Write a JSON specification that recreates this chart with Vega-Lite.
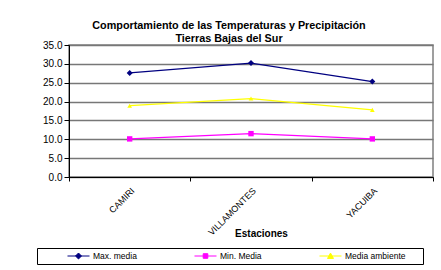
{
  "$schema": "https://vega.github.io/schema/vega-lite/v6.json",
  "width": 364,
  "height": 132,
  "autosize": "none",
  "padding": {"left": 69, "top": 45, "right": 8, "bottom": 93},
  "background": "white",
  "config": {
    "font": "Liberation Sans",
    "view": {"stroke": "#808080", "strokeWidth": 1.5}
  },
  "title": {
    "text": ["Comportamiento de las Temperaturas y Precipitación", "Tierras Bajas del Sur"],
    "fontSize": 10.8,
    "fontWeight": "bold",
    "color": "black",
    "anchor": "middle",
    "dx": -22,
    "offset": -4,
    "lineHeight": 13
  },
  "data": {
    "values": [
      {"estacion": "CAMIRI", "serie": "Max. media", "valor": 27.6},
      {"estacion": "VILLAMONTES", "serie": "Max. media", "valor": 30.2},
      {"estacion": "YACUIBA", "serie": "Max. media", "valor": 25.3},
      {"estacion": "CAMIRI", "serie": "Min. Media", "valor": 10.1},
      {"estacion": "VILLAMONTES", "serie": "Min. Media", "valor": 11.5},
      {"estacion": "YACUIBA", "serie": "Min. Media", "valor": 10.1},
      {"estacion": "CAMIRI", "serie": "Media ambiente", "valor": 18.9},
      {"estacion": "VILLAMONTES", "serie": "Media ambiente", "valor": 20.8},
      {"estacion": "YACUIBA", "serie": "Media ambiente", "valor": 17.8}
    ]
  },
  "encoding": {
    "x": {
      "field": "estacion",
      "type": "nominal",
      "sort": ["CAMIRI", "VILLAMONTES", "YACUIBA"],
      "bandPosition": 0.5,
      "scale": {"type": "band", "paddingInner": 0, "paddingOuter": 0},
      "axis": {
        "title": "Estaciones",
        "titleFontSize": 10,
        "titleFontWeight": "bold",
        "titleColor": "black",
        "titleX": 192,
        "titleY": 59,
        "titleBaseline": "alphabetic",
        "labelAngle": -45,
        "labelFontSize": 9,
        "labelColor": "black",
        "labelPadding": 5,
        "tickBand": "extent",
        "tickSize": 4,
        "tickColor": "black",
        "domainColor": "black",
        "grid": false
      }
    },
    "y": {
      "field": "valor",
      "type": "quantitative",
      "scale": {"domain": [0, 35], "nice": false},
      "axis": {
        "title": null,
        "values": [0, 5, 10, 15, 20, 25, 30, 35],
        "format": ".1f",
        "grid": true,
        "gridColor": "#777777",
        "gridWidth": 1.3,
        "domainColor": "black",
        "tickColor": "black",
        "tickSize": 5,
        "labelFontSize": 10,
        "labelColor": "black",
        "labelPadding": 2
      }
    }
  },
  "layer": [
    {
      "mark": {"type": "line", "strokeWidth": 1.2},
      "encoding": {
        "color": {
          "field": "serie",
          "type": "nominal",
          "scale": {"domain": ["Max. media", "Min. Media", "Media ambiente"], "range": ["#000080", "#FF00FF", "#FFFF00"]},
          "legend": null
        }
      }
    },
    {
      "mark": {"type": "point", "filled": true, "opacity": 1},
      "encoding": {
        "color": {
          "field": "serie",
          "type": "nominal",
          "scale": {"domain": ["Max. media", "Min. Media", "Media ambiente"], "range": ["#000080", "#FF00FF", "#FFFF00"]},
          "legend": null
        },
        "shape": {
          "field": "serie",
          "type": "nominal",
          "scale": {"domain": ["Max. media", "Min. Media", "Media ambiente"], "range": ["diamond", "square", "triangle-up"]},
          "legend": null
        },
        "size": {
          "field": "serie",
          "type": "nominal",
          "scale": {"domain": ["Max. media", "Min. Media", "Media ambiente"], "range": [36, 22, 40]},
          "legend": null
        }
      }
    },
    {
      "mark": {"type": "point", "filled": true, "opacity": 0},
      "encoding": {
        "fill": {
          "field": "serie",
          "type": "nominal",
          "scale": {"domain": ["Max. media", "Min. Media", "Media ambiente"], "range": ["#000080", "#FF00FF", "#FFFF00"]},
          "legend": {"title": null, "orient": "none", "legendX": -32, "legendY": 203, "direction": "horizontal", "columns": 3, "columnPadding": 30, "padding": 3, "strokeColor": "black", "symbolSize": 2401, "clipHeight": 10, "labelOffset": 3, "labelFontSize": 8.5, "labelColor": "black", "symbolStrokeWidth": 1, "symbolOpacity": 1, "labelExpr": "datum.label == 'Media ambiente' ? datum.label + '\u2800\u2800' : datum.label"}
        },
        "stroke": {
          "field": "serie",
          "type": "nominal",
          "scale": {"domain": ["Max. media", "Min. Media", "Media ambiente"], "range": ["#000080", "#FF00FF", "#FFFF00"]},
          "legend": {"title": null, "orient": "none", "legendX": -32, "legendY": 203, "direction": "horizontal", "columns": 3, "columnPadding": 30, "padding": 3, "strokeColor": "black", "symbolSize": 2401, "clipHeight": 10, "labelOffset": 3, "labelFontSize": 8.5, "labelColor": "black", "symbolStrokeWidth": 1, "symbolOpacity": 1, "labelExpr": "datum.label == 'Media ambiente' ? datum.label + '\u2800\u2800' : datum.label"}
        },
        "shape": {
          "field": "serie",
          "type": "nominal",
          "scale": {
            "domain": ["Max. media", "Min. Media", "Media ambiente"],
            "range": [
              "M-1,0M0.102,0L1,0M0.551,-0.122L0.673,0L0.551,0.122L0.429,0Z",
              "M-1,0M0.102,0L1,0M0.457,-0.094L0.645,-0.094L0.645,0.094L0.457,0.094Z",
              "M-1,0M0.102,0L1,0M0.551,-0.12L0.673,0.1L0.429,0.1Z"
            ]
          },
          "legend": {"title": null, "orient": "none", "legendX": -32, "legendY": 203, "direction": "horizontal", "columns": 3, "columnPadding": 30, "padding": 3, "strokeColor": "black", "symbolSize": 2401, "clipHeight": 10, "labelOffset": 3, "labelFontSize": 8.5, "labelColor": "black", "symbolStrokeWidth": 1, "symbolOpacity": 1, "labelExpr": "datum.label == 'Media ambiente' ? datum.label + '\u2800\u2800' : datum.label"}
        }
      }
    }
  ],
  "resolve": {"scale": {"shape": "independent", "fill": "independent", "stroke": "independent"}}
}
